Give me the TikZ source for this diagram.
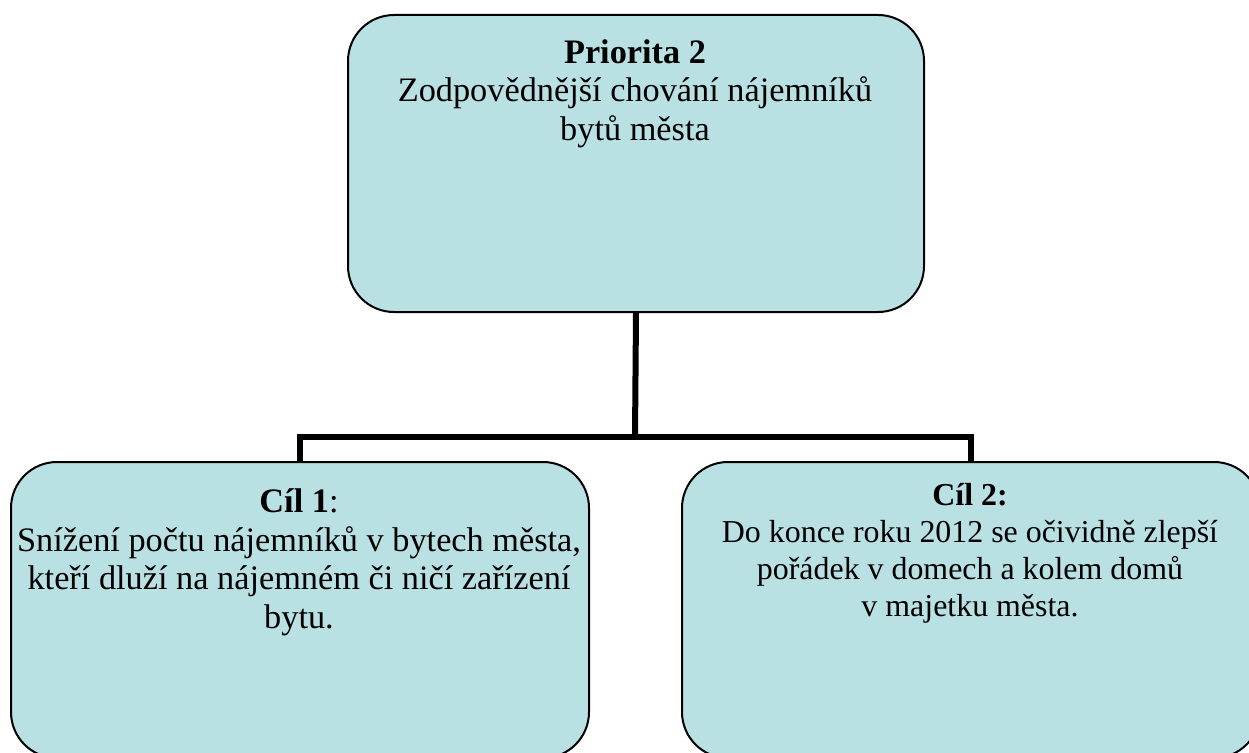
\documentclass[tikz,border=0pt]{standalone}
\usepackage{fontspec}
\setmainfont{Liberation Serif}
\definecolor{boxfill}{RGB}{185,224,227}
\begin{document}
\begin{tikzpicture}[x=1pt,y=-1pt,
  goalbox/.style={draw=black, line width=2pt, fill=boxfill, rounded corners=46pt,
    minimum width=578pt, anchor=north west, inner sep=0pt},
  boxtext/.style={align=center, anchor=base, inner sep=0pt,
    font=\fontsize{34.3}{38.5}\selectfont},
  smalltext/.style={boxtext, font=\fontsize{31.9}{37}\selectfont},
  conn/.style={draw=black, line width=6pt, line join=miter}]
  \useasboundingbox (0,0) rectangle (1249,752);

  % boxes
  \node[goalbox, minimum width=576pt, minimum height=297pt] (prio) at (347,14) {};
  \node[goalbox, minimum height=296pt] (goalA) at (10,461) {};
  \node[goalbox, minimum height=296pt] (goalB) at (681,461) {};

  % texts (anchored at the baseline of their last line)
  \node[boxtext] (prioT) at (635,140) {\textbf{Priorita 2}\\Zodpovědnější chování nájemníků\\bytů města};
  \node[boxtext] (goalAT) at (299,628) {\textbf{Cíl 1}:\\Snížení počtu nájemníků v bytech města,\\kteří dluží na nájemném či ničí zařízení\\bytu.};
  \node[smalltext] (goalBT) at (970,616) {\textbf{Cíl 2:}\\Do konce roku 2012 se očividně zlepší\\pořádek v domech a kolem domů\\v majetku města.};

  % connectors
  \coordinate (hub) at (635,437);
  \draw[conn] (prio.south) -- (hub);
  \draw[conn] (goalA.north) |- (hub) -| (goalB.north);
\end{tikzpicture}
\end{document}
